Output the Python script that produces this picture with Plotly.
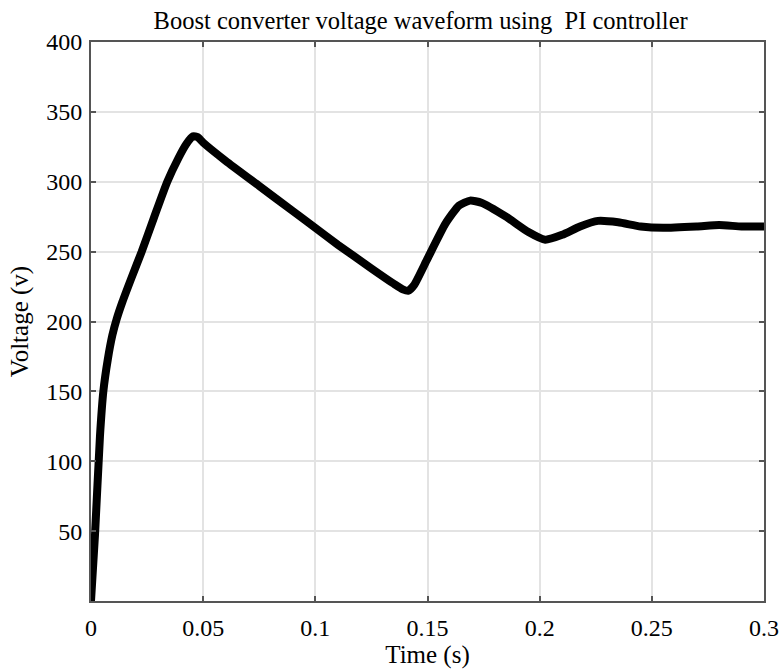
import plotly.graph_objects as go

time_s = [0, 0.0018, 0.004, 0.0055, 0.0075, 0.0095, 0.0115, 0.014, 0.018, 0.0226, 0.028, 0.034,
          0.039, 0.0425, 0.0455, 0.0475, 0.050, 0.06, 0.075, 0.09, 0.1, 0.11, 0.125, 0.135,
          0.139, 0.1415, 0.144, 0.15, 0.158, 0.164, 0.169, 0.174, 0.185, 0.195, 0.2025,
          0.21, 0.218, 0.226, 0.235, 0.245, 0.255, 0.27, 0.28, 0.29, 0.3]
voltage = [0, 48, 118, 150, 173, 190, 202, 214, 231, 250, 274, 300,
           317, 327, 332.5, 332, 328, 315, 297, 279, 267, 255, 238, 227,
           223, 222, 226, 245, 270, 283, 286.5, 285, 275, 264, 258.5,
           262, 268, 272, 271, 268, 267, 268, 269, 268, 268]

x_ticks = [0, 0.05, 0.1, 0.15, 0.2, 0.25, 0.3]
x_tick_text = ["0", "0.05", "0.1", "0.15", "0.2", "0.25", "0.3"]
y_ticks = [50, 100, 150, 200, 250, 300, 350, 400]

font_family = "Liberation Serif, Times New Roman, serif"

fig = go.Figure()
fig.add_trace(go.Scatter(x=time_s, y=voltage, mode="lines",
                         line=dict(color="black", width=8, shape="spline", smoothing=0.5),
                         showlegend=False))

axis_common = dict(showline=True, linecolor="#555555", linewidth=2, mirror="ticks",
                   ticks="inside", ticklen=5, tickcolor="#555555", tickwidth=1.5,
                   showgrid=True, gridcolor="#e3e3e3", gridwidth=1.5, zeroline=False,
                   tickfont=dict(family=font_family, size=24, color="black"))

fig.update_layout(
    width=779, height=670,
    margin=dict(l=91, r=15, t=42, b=69),
    paper_bgcolor="white", plot_bgcolor="white",
    title=dict(text="Boost converter voltage waveform using  PI controller",
               x=0.54, xanchor="center", y=0.97, yanchor="middle",
               font=dict(family=font_family, size=24.5, color="black")),
    xaxis=dict(range=[0, 0.3], tickvals=x_ticks, ticktext=x_tick_text,
               ticklabelstandoff=4,
               title=dict(text="Time (s)", font=dict(family=font_family, size=25, color="black"),
                          standoff=0),
               automargin=False,
               **axis_common),
    yaxis=dict(range=[0, 400], tickvals=y_ticks,
               ticklabelstandoff=2,
               title=dict(text="Voltage (v)", font=dict(family=font_family, size=25, color="black"),
                          standoff=10),
               automargin=False,
               **axis_common),
)

fig.write_html("out.html", config={"displayModeBar": False},
               post_script="document.body.style.margin='0';document.body.style.overflow='hidden';")
